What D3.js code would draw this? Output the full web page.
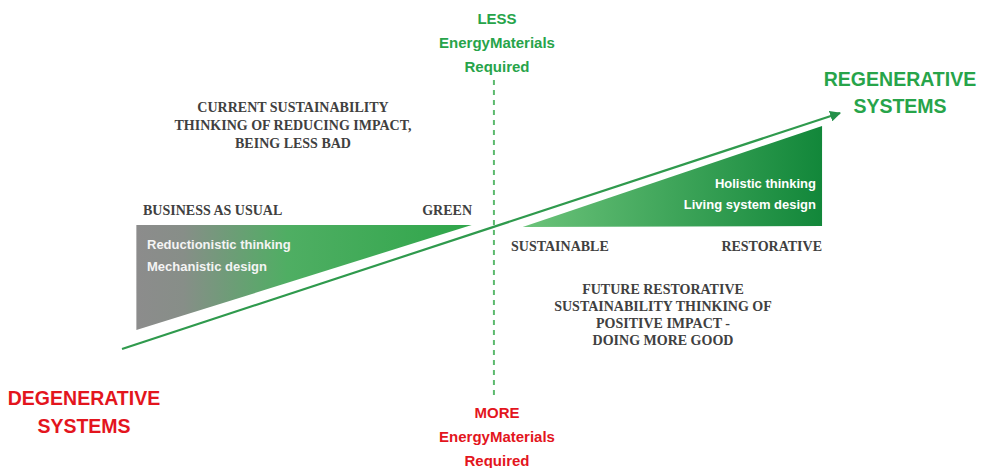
<!DOCTYPE html>
<html>
<head>
<meta charset="utf-8">
<script src="https://cdn.jsdelivr.net/npm/d3@7"></script>
<style>
	body { margin: 0; background: #fff; }
	.serif { font-family: "Liberation Serif", "DejaVu Serif", serif; font-weight: bold; fill: #404040; }
	.sans { font-family: "Liberation Sans", Arial, sans-serif; font-weight: bold; }
</style>
</head>
<body>
<div id="chart"></div>
<script>
// concept space: 0..100 on both axes, trend line goes from (0,0) to (100,100)
var trendLine = [[0, 0], [100, 100]];
var dividerX = 51.8;
var leftWedge = [[2, 52.5], [48.7, 52.5], [2, 8]];
var rightWedge = [[55.8, 51.7], [97.5, 52.1], [97.5, 94.5]];

var stageLabels = ['BUSINESS AS USUAL', 'GREEN', 'SUSTAINABLE', 'RESTORATIVE'];
var leftNotes = ['Reductionistic thinking', 'Mechanistic design'];
var rightNotes = ['Holistic thinking', 'Living system design'];
var currentLines = ['CURRENT SUSTAINABILITY', 'THINKING OF REDUCING IMPACT,', 'BEING LESS BAD'];
var futureLines = ['FUTURE RESTORATIVE', 'SUSTAINABILITY THINKING OF', 'POSITIVE IMPACT -', 'DOING MORE GOOD'];
var lessLines = ['LESS', 'EnergyMaterials', 'Required'];
var moreLines = ['MORE', 'EnergyMaterials', 'Required'];
var degenLines = ['DEGENERATIVE', 'SYSTEMS'];
var regenLines = ['REGENERATIVE', 'SYSTEMS'];

var width = 994, height = 468;
var GREEN = '#27a44a', RED = '#e3151d';

var svg = d3.select('#chart').append('svg')
	.attr('width', width)
	.attr('height', height);

var x = d3.scaleLinear().domain([0, 100]).range([122, 840]);
var y = d3.scaleLinear().domain([0, 100]).range([349, 113]);

var defs = svg.append('defs');

var g1 = defs.append('linearGradient').attr('id', 'leftGrad')
	.attr('x1', '0%').attr('x2', '100%').attr('y1', '0%').attr('y2', '0%');
g1.append('stop').attr('offset', '0%').attr('stop-color', '#8c8c8c');
g1.append('stop').attr('offset', '14%').attr('stop-color', '#878e88');
g1.append('stop').attr('offset', '45%').attr('stop-color', '#4fae63');
g1.append('stop').attr('offset', '100%').attr('stop-color', '#2fa64a');

var g2 = defs.append('linearGradient').attr('id', 'rightGrad')
	.attr('x1', '0%').attr('x2', '100%').attr('y1', '0%').attr('y2', '0%');
g2.append('stop').attr('offset', '0%').attr('stop-color', '#6cc37a');
g2.append('stop').attr('offset', '100%').attr('stop-color', '#12873a');

defs.append('marker').attr('id', 'arrow')
	.attr('viewBox', '0 0 10 10')
	.attr('refX', 9).attr('refY', 5)
	.attr('markerWidth', 5).attr('markerHeight', 5)
	.attr('orient', 'auto')
	.append('path')
		.attr('d', 'M0,0 L10,5 L0,10 z')
		.attr('fill', '#24904a');

var line = d3.line()
	.x(function(d) { return x(d[0]); })
	.y(function(d) { return y(d[1]); });

svg.append('path')
	.datum(leftWedge)
	.attr('d', function(d) { return line(d) + 'Z'; })
	.attr('fill', 'url(#leftGrad)');

svg.append('path')
	.datum(rightWedge)
	.attr('d', function(d) { return line(d) + 'Z'; })
	.attr('fill', 'url(#rightGrad)');

// vertical divider
svg.append('line')
	.attr('x1', x(dividerX)).attr('x2', x(dividerX))
	.attr('y1', 80).attr('y2', 398)
	.attr('stroke', '#5dba6f')
	.attr('stroke-width', 2)
	.attr('stroke-dasharray', '5,5');

svg.append('path')
	.datum(trendLine)
	.attr('d', line)
	.attr('stroke', '#2f9a4d')
	.attr('stroke-width', 2.2)
	.attr('fill', 'none')
	.attr('marker-end', 'url(#arrow)');

function block(lines, cx, cy, dy, cls, size, color, anchor) {
	var t = svg.append('text')
		.attr('class', cls)
		.attr('text-anchor', anchor || 'middle')
		.style('font-size', size + 'px');
	if (color) t.style('fill', color);
	t.selectAll('tspan').data(lines).enter()
		.append('tspan')
		.attr('x', cx)
		.attr('y', function(d, i) { return cy + i * dy; })
		.text(function(d) { return d; });
	return t;
}

// stage labels
block([stageLabels[0]], 143, 215, 0, 'serif', 14, null, 'start');
block([stageLabels[1]], 472, 215, 0, 'serif', 14, null, 'end');
block([stageLabels[2]], 511, 251, 0, 'serif', 14, null, 'start');
block([stageLabels[3]], 822, 251, 0, 'serif', 14, null, 'end');

block(leftNotes, 147, 249, 22, 'sans', 13, '#f4f4f4', 'start');
block(rightNotes, 816, 188, 21, 'sans', 13, '#ffffff', 'end');

block(currentLines, 293, 112, 18, 'serif', 14, null);
block(futureLines, 663, 294, 17, 'serif', 14, null);

block(lessLines, 497, 24, 24, 'sans', 15, GREEN);
block(moreLines, 497, 418, 24, 'sans', 15, RED);
block(degenLines, 84, 405, 28, 'sans', 19.5, RED);
block(regenLines, 900, 86, 27, 'sans', 19.5, GREEN);
</script>
</body>
</html>
